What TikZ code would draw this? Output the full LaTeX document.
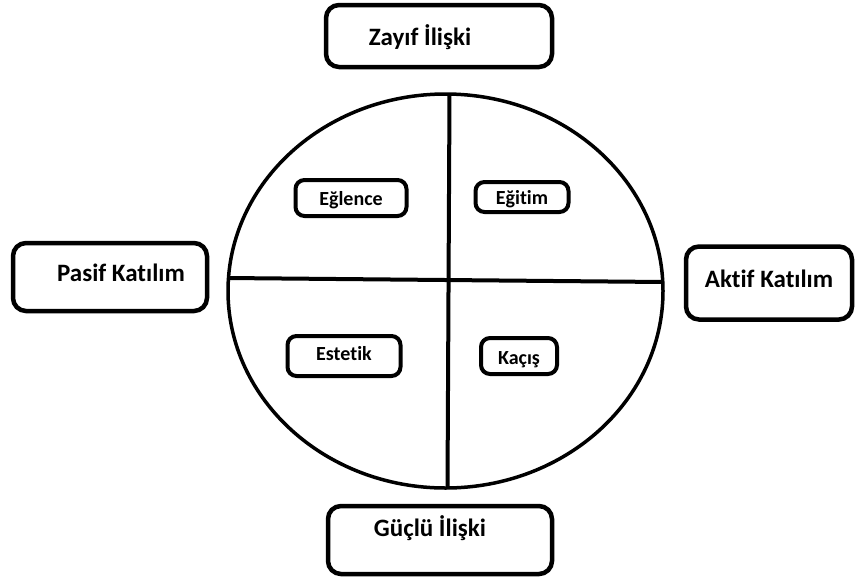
\documentclass[tikz,border=0pt]{standalone}
\usepackage{fontspec}
\setmainfont{Carlito}[Ligatures=NoCommon]
\usetikzlibrary{shapes.geometric}

\tikzset{
  kutu/.style={draw, line width=4.5pt, rounded corners=13pt, inner sep=0pt,
    text height=0.85em, text depth=0.05em,
    font=\bfseries\fontsize{25}{28}\selectfont},
  kucukkutu/.style={draw, line width=4pt, rounded corners=9pt, inner sep=0pt,
    text height=0.9em, text depth=0em,
    font=\bfseries\fontsize{20}{23}\selectfont}
}

\begin{document}
\begin{tikzpicture}[x=1pt, y=-1pt]
\useasboundingbox (0, 0) rectangle (856, 579);

\node (daire) [draw, ellipse, line width=3.5pt, inner sep=0pt, outer sep=0pt,
  minimum width=435pt, minimum height=394pt] at (445.5, 291) {};
\draw [line width=4pt] ([xshift=4pt]daire.north) -- ([xshift=2pt]daire.south);
\draw [line width=4pt] ([yshift=13pt]daire.west) -- ([yshift=9pt]daire.east);

\node (zayif) [kutu, minimum width=226pt, minimum height=62pt] at (439, 36)
  {\raisebox{-5pt}{Zayıf İlişki}\hspace*{38pt}};
\node (guclu) [kutu, minimum width=224pt, minimum height=68pt] at (440, 540)
  {\raisebox{8pt}{Güçlü İlişki}\hspace*{20pt}};
\node (pasif) [kutu, minimum width=194pt, minimum height=68pt] at (110, 277)
  {\hspace*{22pt}Pasif Katılım};
\node (aktif) [kutu, minimum width=166pt, minimum height=73pt] at (769, 283) {Aktif Katılım};

\node (eglence) [kucukkutu, minimum width=111pt, minimum height=36pt] at (351, 198)
  {\raisebox{-3pt}{Eğlence}};
\node (egitim) [kucukkutu, minimum width=93pt, minimum height=30pt] at (522, 197)
  {\raisebox{-3pt}{Eğitim}};
\node (estetik) [kucukkutu, minimum width=113pt, minimum height=40pt] at (344, 356) {Estetik};
\node (kacis) [kucukkutu, minimum width=76pt, minimum height=36pt] at (519, 356)
  {\raisebox{-4pt}{Kaçış}};
\end{tikzpicture}
\end{document}
